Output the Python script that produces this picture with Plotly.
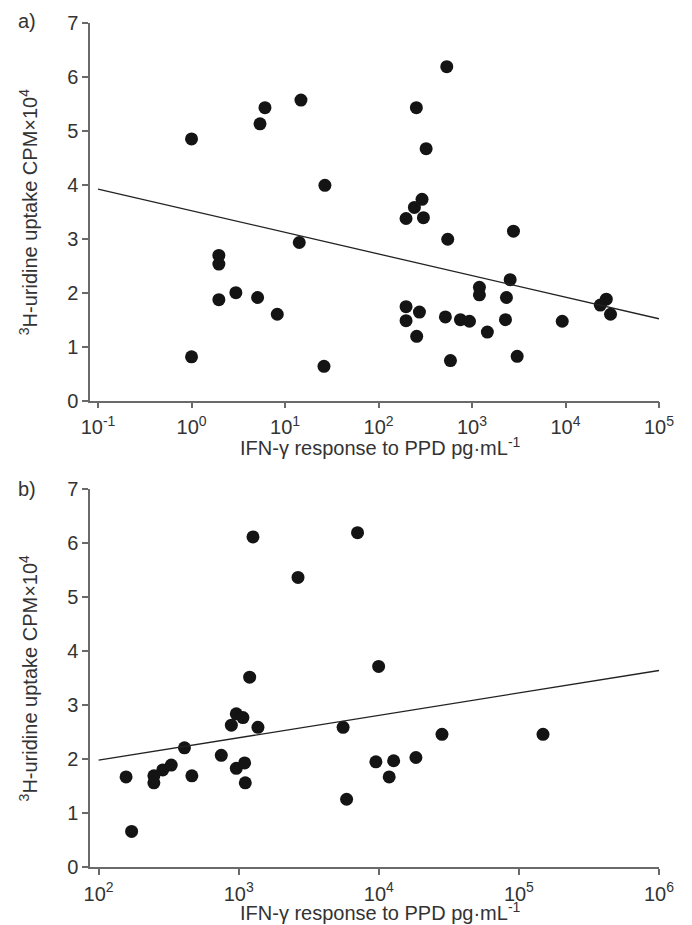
import plotly.graph_objects as go
import math

# ---- Panel a data ----
a_x = [1.0, 5.4, 6.1, 14.8, 26.7,
       537, 254, 323, 292, 242, 197, 302, 2775,
       14.2, 1.96, 1.96, 1.96, 2.98, 5.09, 8.26, 1.0, 26.1,
       550, 2558, 1200, 1200, 2335, 197, 274, 197, 519, 752, 939, 2280,
       256, 1459, 588, 3041, 9226, 27300, 23550, 30300]
a_y = [4.85, 5.13, 5.43, 5.57, 3.99,
       6.19, 5.43, 4.67, 3.73, 3.58, 3.375, 3.39, 3.14,
       2.93, 2.69, 2.53, 1.87, 2.00, 1.91, 1.60, 0.81, 0.634,
       2.99, 2.24, 2.10, 1.96, 1.91, 1.74, 1.64, 1.48, 1.55, 1.50, 1.47, 1.50,
       1.19, 1.27, 0.74, 0.82, 1.47, 1.88, 1.77, 1.60]
a_fit_intercept = 3.519   # y at log10(x)=0
a_fit_slope = -0.4007     # per decade
a_fit_xrange = [0.1, 1e5]

# ---- Panel b data ----
b_x = [1264, 2650, 1197, 7050, 9970,
       157, 172, 248, 248, 287, 330, 410, 463, 751, 886, 961, 1072, 1372,
       961, 1102, 1114, 5560, 5890,
       9530, 12760, 11860, 18400, 28250, 148600]
b_y = [6.12, 5.37, 3.52, 6.20, 3.72,
       1.67, 0.66, 1.69, 1.56, 1.80, 1.89, 2.21, 1.69, 2.07, 2.63, 2.84, 2.77, 2.59,
       1.83, 1.93, 1.56, 2.59, 1.256,
       1.95, 1.97, 1.67, 2.03, 2.46, 2.46]
b_fit_intercept = 1.148
b_fit_slope = 0.416
b_fit_xrange = [1e2, 1e6]

a_tickvals = [1e-1, 1e0, 1e1, 1e2, 1e3, 1e4, 1e5]
a_ticktext = ["10<sup>-1</sup>", "10<sup>0</sup>", "10<sup>1</sup>", "10<sup>2</sup>",
              "10<sup>3</sup>", "10<sup>4</sup>", "10<sup>5</sup>"]
b_tickvals = [1e2, 1e3, 1e4, 1e5, 1e6]
b_ticktext = ["10<sup>2</sup>", "10<sup>3</sup>", "10<sup>4</sup>", "10<sup>5</sup>", "10<sup>6</sup>"]
y_tickvals = [0, 1, 2, 3, 4, 5, 6, 7]

x_title = "IFN-γ response to PPD pg·mL<sup>-1</sup>"
y_title = "<sup>3</sup>H-uridine uptake CPM×10<sup>4</sup>"


def fit_line(xr, b0, b1):
    return xr, [b0 + b1 * math.log10(v) for v in xr]

FONT = "Liberation Sans, Arial, sans-serif"
TXT = "#333333"
AX = "#6a6a6a"
MK = "#141414"
FS = 20

fig = go.Figure()
fig.add_trace(go.Scatter(x=a_x, y=a_y, mode="markers", xaxis="x", yaxis="y",
                         marker=dict(size=13, color=MK), showlegend=False))
lx, ly = fit_line(a_fit_xrange, a_fit_intercept, a_fit_slope)
fig.add_trace(go.Scatter(x=lx, y=ly, mode="lines", xaxis="x", yaxis="y",
                         line=dict(color="#222", width=1.3), showlegend=False))
fig.add_trace(go.Scatter(x=b_x, y=b_y, mode="markers", xaxis="x2", yaxis="y2",
                         marker=dict(size=13, color=MK), showlegend=False))
lx, ly = fit_line(b_fit_xrange, b_fit_intercept, b_fit_slope)
fig.add_trace(go.Scatter(x=lx, y=ly, mode="lines", xaxis="x2", yaxis="y2",
                         line=dict(color="#222", width=1.3), showlegend=False))

W, H = 692, 925
ml, mr, mt, mb = 90, 33.3, 20, 57.7
ph = H - mt - mb
top_dom = [(867.3 - 399) / ph, 1]
bot_dom = [0, (867.3 - 488.3) / ph]

common_x = dict(type="log", showline=True, linecolor=AX, linewidth=1.5,
                ticks="outside", ticklen=6, tickcolor=AX, tickwidth=1.5, ticklabelstandoff=2,
                showgrid=False, zeroline=False, tickfont=dict(size=FS, color=TXT, family=FONT))
common_y = dict(range=[0, 7], tickvals=y_tickvals, showline=True, linecolor=AX, linewidth=1.5,
                ticks="outside", ticklen=6, tickcolor=AX, tickwidth=1.5,
                showgrid=False, zeroline=False, tickfont=dict(size=FS, color=TXT, family=FONT))

fig.update_layout(
    width=W, height=H,
    margin=dict(l=ml, r=mr, t=mt, b=mb),
    paper_bgcolor="white", plot_bgcolor="white",
    font=dict(family=FONT, color=TXT),
    xaxis=dict(common_x, range=[-1.086, 5.0], tickvals=a_tickvals, ticktext=a_ticktext,
               anchor="y"),
    yaxis=dict(common_y, domain=top_dom, anchor="x"),
    xaxis2=dict(common_x, range=[1.9385, 6.0], tickvals=b_tickvals, ticktext=b_ticktext,
                anchor="y2"),
    yaxis2=dict(common_y, domain=bot_dom, anchor="x2"),
)


def px_to_paper_x(px):
    return (px - ml) / (W - ml - mr)


def px_to_paper_y(py):
    return (H - mb - py) / ph

anns = [
    dict(text="a)", x=px_to_paper_x(27), y=px_to_paper_y(18)),
    dict(text="b)", x=px_to_paper_x(27), y=px_to_paper_y(488)),
    dict(text=x_title, x=px_to_paper_x(380), y=px_to_paper_y(445)),
    dict(text=x_title, x=px_to_paper_x(380), y=px_to_paper_y(912)),
    dict(text=y_title, x=px_to_paper_x(28), y=px_to_paper_y(210), textangle=-90),
    dict(text=y_title, x=px_to_paper_x(28), y=px_to_paper_y(678), textangle=-90),
]
for a in anns:
    a.update(xref="paper", yref="paper", showarrow=False, xanchor="center", yanchor="middle",
             font=dict(size=FS, color=TXT, family=FONT))
    fig.add_annotation(**a)

fig.write_html("out.html", config={"displayModeBar": False},
               post_script="document.body.style.margin='0';document.body.style.overflow='hidden';")
